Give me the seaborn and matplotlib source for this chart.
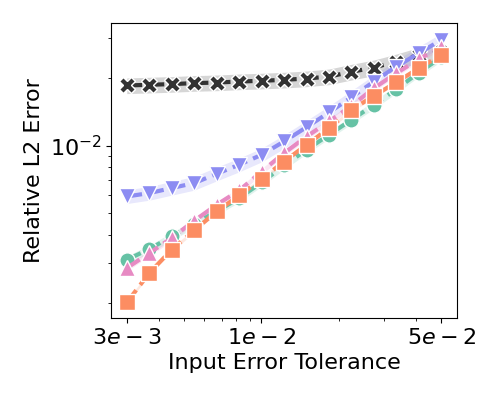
import numpy as np
import pandas as pd
import matplotlib
matplotlib.use('Agg')
import matplotlib.pyplot as plt
import seaborn as sns

# tolerances (log spaced, 15 points)
tol = [0.003, 0.00367, 0.00448, 0.00548, 0.0067, 0.00819, 0.01001, 0.01224,
       0.01497, 0.0183, 0.02237, 0.02735, 0.03344, 0.0409, 0.05]

err_black = [0.01849, 0.01862, 0.01875, 0.01894, 0.01905, 0.01925, 0.0194, 0.01959,
             0.01985, 0.02026, 0.02126, 0.02222, 0.02362, 0.0253, 0.02617]
err_purple = [0.005934, 0.006144, 0.006467, 0.006806, 0.007485, 0.00821, 0.00909, 0.01042,
              0.01207, 0.01402, 0.0164, 0.01925, 0.02245, 0.02575, 0.0295]
err_green = [0.003105, 0.003464, 0.00394, 0.004487, 0.005089, 0.005836, 0.006849, 0.00815,
             0.00957, 0.01116, 0.0130, 0.01517, 0.01781, 0.02111, 0.02471]
err_pink = [0.002851, 0.003325, 0.003877, 0.004627, 0.00545, 0.00631, 0.00766, 0.00925,
            0.01096, 0.01279, 0.01501, 0.01799, 0.02099, 0.02421, 0.02754]
err_orange = [0.002006, 0.00271, 0.003439, 0.004191, 0.005089, 0.005995, 0.00709, 0.008489,
              0.01007, 0.01195, 0.01441, 0.01663, 0.01913, 0.02208, 0.02529]

# relative half-width of the shaded band
band = {'black': 0.08, 'purple': 0.07, 'green': 0.04, 'pink': 0.03, 'orange': 0.02}

series = [
    ('black', err_black, '#333333', 'X'),
    ('purple', err_purple, '#8c8cf2', 'v'),
    ('green', err_green, '#66c2a5', 'o'),
    ('pink', err_pink, '#e78ac3', '^'),
    ('orange', err_orange, '#fc8d62', 's'),
]

fig = plt.figure(figsize=(4.98, 3.99), dpi=100)
ax = fig.add_axes([0.223, 0.203, 0.695, 0.739])

for name, vals, col, mk in series:
    df = pd.DataFrame({'tol': tol, 'err': vals})
    v = np.array(vals)
    ax.fill_between(tol, v * (1 - band[name]), v * (1 + band[name]),
                    color=col, alpha=0.2, lw=0)
    sns.lineplot(data=df, x='tol', y='err', ax=ax, color=col, marker=mk,
                 markersize=11, markeredgecolor='white', markeredgewidth=1,
                 linewidth=3, linestyle='--')

ax.set_xscale('log')
ax.set_yscale('log')
ax.set_xticks([3e-3, 1e-2, 5e-2])
ax.set_xticklabels(['$3e-3$', '$1e-2$', '$5e-2$'])
ax.set_yticks([1e-2])
ax.tick_params(labelsize=16)
ax.set_xlabel('Input Error Tolerance', fontsize=16)
ax.set_ylabel('Relative L2 Error', fontsize=16)
ax.set_ylim(1.71e-3, 3.5e-2)

plt.savefig('out.png', dpi=100)
